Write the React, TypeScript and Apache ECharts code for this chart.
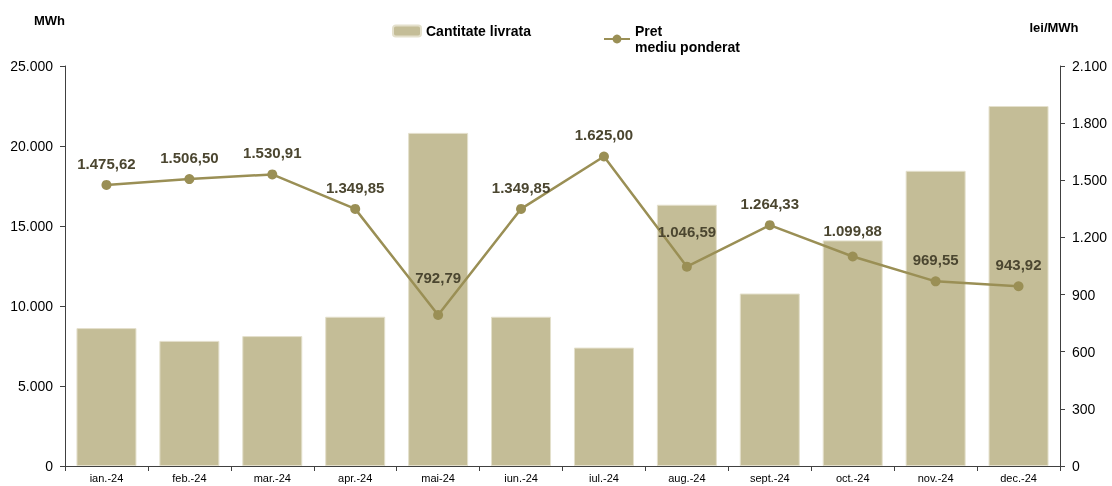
import React, { useEffect, useRef } from "react";
import * as echarts from "echarts";

const categories = ["ian.-24", "feb.-24", "mar.-24", "apr.-24", "mai-24", "iun.-24", "iul.-24", "aug.-24", "sept.-24", "oct.-24", "nov.-24", "dec.-24"];
const quantity = [8620, 7820, 8120, 9330, 20820, 9330, 7400, 16330, 10780, 14100, 18450, 22500];
const price = [1475.62, 1506.5, 1530.91, 1349.85, 792.79, 1349.85, 1625.0, 1046.59, 1264.33, 1099.88, 969.55, 943.92];
const leftTicks = [0, 5000, 10000, 15000, 20000, 25000];
const rightTicks = [0, 300, 600, 900, 1200, 1500, 1800, 2100];

const BAR_NAME = "Cantitate livrata";
const LINE_NAME = "Pret\nmediu ponderat";

function fmtThousands(v: number): string {
  const s = Math.round(v).toString();
  return s.replace(/\B(?=(\d{3})+(?!\d))/g, ".");
}
function fmtPrice(v: number): string {
  const [i, d] = v.toFixed(2).split(".");
  return fmtThousands(Number(i)) + "," + d;
}

const FONT = "'Liberation Sans', Arial, sans-serif";
const BAR_COLOR = "#c4bd97";
const LINE_COLOR = "#9a8f55";
const LABEL_COLOR = "#4b4630";

export default function App() {
  const ref = useRef<HTMLDivElement>(null);
  useEffect(() => {
    if (!ref.current) return;
    const chart = echarts.init(ref.current, null, { renderer: "svg" });
    const extraLift: Record<number, number> = { 4: 16, 7: 14, 9: 4 };
    const lineData = price.map((v, i) => ({
      value: v,
      label: { offset: [0, -(extraLift[i] || 0)] },
    }));
    chart.setOption({
      animation: false,
      textStyle: { fontFamily: FONT },
      grid: { left: 65, right: 52, top: 66, bottom: 20, containLabel: false },
      legend: [
        {
          data: [BAR_NAME],
          left: 392,
          top: 24,
          padding: 0,
          itemWidth: 28,
          itemHeight: 11,
          textStyle: { fontFamily: FONT, fontSize: 14, fontWeight: "bold", color: "#000" },
          selectedMode: false,
        },
        {
          data: [{ name: LINE_NAME, textStyle: { padding: [16, 0, 0, 0] } }],
          left: 603,
          top: 15,
          padding: 0,
          itemWidth: 26,
          itemHeight: 11,
          itemGap: 5,
          textStyle: { fontFamily: FONT, fontSize: 14, fontWeight: "bold", color: "#000", lineHeight: 16 },
          selectedMode: false,
        },
      ],
      xAxis: {
        type: "category",
        data: categories,
        axisLine: { lineStyle: { color: "#404040", width: 1 } },
        axisTick: { show: true, alignWithLabel: false, length: 5, lineStyle: { color: "#404040" } },
        axisLabel: { fontSize: 11, color: "#000", fontFamily: FONT, margin: 6 },
      },
      yAxis: [
        {
          type: "value",
          min: 0,
          max: 25000,
          interval: 5000,
          name: "MWh",
          nameLocation: "end",
          nameGap: 46,
          nameTextStyle: { fontFamily: FONT, fontSize: 13, fontWeight: "bold", color: "#000", align: "right", verticalAlign: "middle" },
          axisLine: { show: true, lineStyle: { color: "#404040" } },
          axisTick: { show: true, length: 5, lineStyle: { color: "#404040" } },
          splitLine: { show: false },
          axisLabel: {
            fontSize: 14,
            color: "#000",
            fontFamily: FONT,
            margin: 12,
            formatter: (v: number) => (leftTicks.includes(v) ? fmtThousands(v) : ""),
          },
        },
        {
          type: "value",
          min: 0,
          max: 2100,
          interval: 300,
          position: "right",
          name: "lei/MWh",
          nameLocation: "end",
          nameGap: 39,
          nameTextStyle: { fontFamily: FONT, fontSize: 13, fontWeight: "bold", color: "#000", align: "center", verticalAlign: "middle", padding: [0, 12, 0, 0] },
          axisLine: { show: true, lineStyle: { color: "#404040" } },
          axisTick: { show: true, length: 5, lineStyle: { color: "#404040" } },
          splitLine: { show: false },
          axisLabel: {
            fontSize: 14,
            color: "#000",
            fontFamily: FONT,
            margin: 12,
            formatter: (v: number) => (rightTicks.includes(v) ? fmtThousands(v) : ""),
          },
        },
      ],
      series: [
        {
          name: BAR_NAME,
          type: "bar",
          data: quantity,
          yAxisIndex: 0,
          barWidth: 60,
          itemStyle: { color: BAR_COLOR, borderColor: "#e4e0cc", borderWidth: 1 },
        },
        {
          name: LINE_NAME,
          type: "line",
          data: lineData,
          yAxisIndex: 1,
          symbol: "circle",
          symbolSize: 10,
          lineStyle: { color: LINE_COLOR, width: 2.5 },
          itemStyle: { color: LINE_COLOR },
          label: {
            show: true,
            position: "top",
            distance: 9,
            fontFamily: FONT,
            fontSize: 15,
            fontWeight: "bold",
            color: LABEL_COLOR,
            formatter: (p: any) => fmtPrice(p.value),
          },
          z: 3,
        },
      ],
    });
    return () => chart.dispose();
  }, []);
  return <div ref={ref} style={{ position: "fixed", left: 0, top: 0, width: 1112, height: 486 }} />;
}
